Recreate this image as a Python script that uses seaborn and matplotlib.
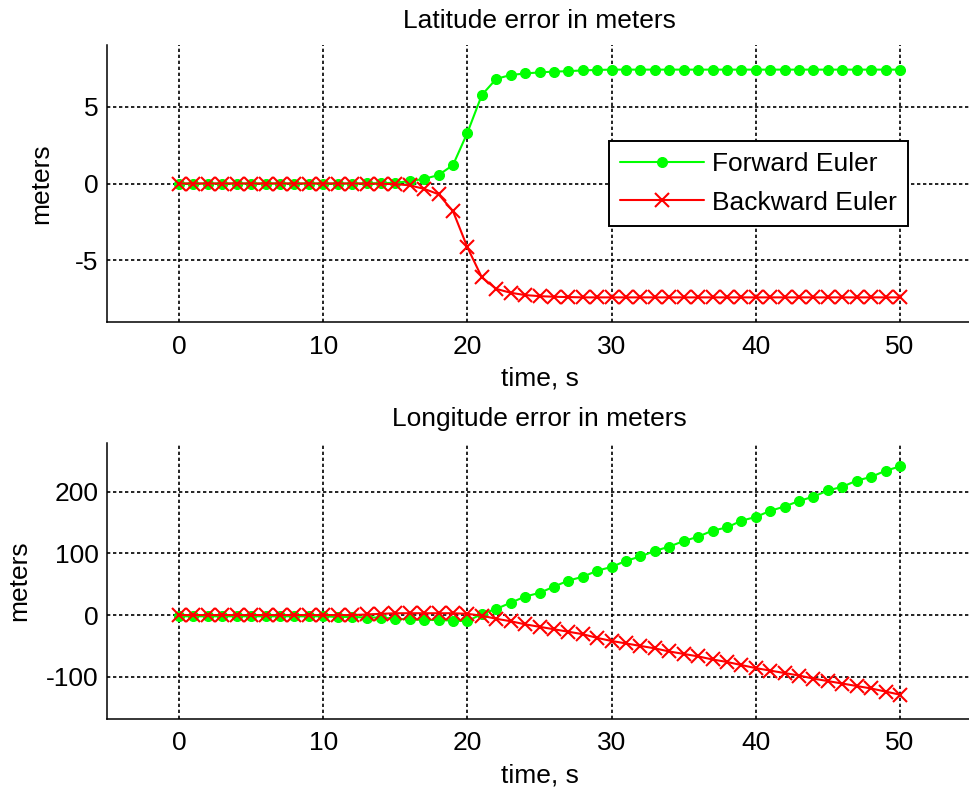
import matplotlib
matplotlib.use("Agg")
import matplotlib.pyplot as plt
import seaborn as sns
import numpy as np

# ---------------- data ----------------
t = list(range(0, 51))

lat_forward = [0.0, 0.0, 0.0, 0.0, 0.0, 0.0, 0.0, 0.0, 0.0, 0.0,
               0.0, 0.0, 0.0, 0.01, 0.02, 0.05, 0.15, 0.3, 0.55, 1.2,
               3.3, 5.75, 6.8, 7.05, 7.15, 7.22, 7.27, 7.3, 7.35, 7.38,
               7.4, 7.4, 7.4, 7.4, 7.4, 7.4, 7.4, 7.4, 7.4, 7.4,
               7.4, 7.4, 7.4, 7.4, 7.4, 7.4, 7.4, 7.4, 7.4, 7.4, 7.4]
lat_backward = [0.0, 0.0, 0.0, 0.0, 0.0, 0.0, 0.0, 0.0, 0.0, 0.0,
                0.0, 0.0, 0.0, -0.01, -0.02, -0.04, -0.12, -0.35, -0.7, -1.8,
                -4.15, -6.1, -6.85, -7.1, -7.25, -7.32, -7.36, -7.38, -7.4, -7.4,
                -7.4, -7.4, -7.4, -7.4, -7.4, -7.4, -7.4, -7.4, -7.4, -7.4,
                -7.4, -7.4, -7.4, -7.4, -7.4, -7.4, -7.4, -7.4, -7.4, -7.4, -7.4]

lon_forward = [-2, -2, -2, -2, -2, -2, -2, -2, -2, -2,
               -2, -3, -3, -4, -4, -6, -7, -8, -8, -9,
               -10, 2, 10, 20, 30, 36, 46, 56, 62, 72,
               78, 88, 95, 104, 111, 120, 127, 137, 142, 153,
               159, 169, 176, 185, 192, 202, 208, 218, 224, 234, 241]
lon_backward = [0, 0, 0, 0, 0, 0, 0, 0, 0, 0,
                0, 0, 0, 1, 2, 3, 3, 3, 3, 3,
                2, -1, -6, -10, -15, -19, -23, -27, -31, -37,
                -42, -46, -50, -54, -59, -63, -67, -72, -76, -81,
                -86, -90, -94, -98, -103, -107, -111, -115, -119, -124, -129]

xticks = [0, 10, 20, 30, 40, 50]
lat_yticks = [-5, 0, 5]
lon_yticks = [-100, 0, 100, 200]
titles = ["Latitude error in meters", "Longitude error in meters"]
labels = ["Forward Euler", "Backward Euler"]

# ---------------- style ----------------
sns.set_style("white")
plt.rcParams['font.family'] = ['Liberation Sans', 'DejaVu Sans']
plt.rcParams['text.color'] = 'black'
plt.rcParams['axes.labelcolor'] = 'black'
plt.rcParams['xtick.color'] = 'black'
plt.rcParams['ytick.color'] = 'black'
FS = 19

fig = plt.figure(figsize=(9.69, 7.89), dpi=100)
ax1 = fig.add_axes([107/969, 1-322/789, 865/969, 277/789])
ax2 = fig.add_axes([107/969, 1-719/789, 865/969, 276/789])

GREEN = (0, 1, 0)
RED = (1, 0, 0)

def draw(ax, yf, yb, ylim, yticks, title, legend, ylabelpad):
    sns.lineplot(x=t, y=yf, ax=ax, color=GREEN, marker='o', markersize=7.2,
                 markeredgecolor=GREEN, markerfacecolor=GREEN, linewidth=1.5,
                 label=labels[0] if legend else None, legend=False)
    sns.lineplot(x=t, y=yb, ax=ax, color=RED, marker='x', markersize=9.5,
                 markeredgecolor=RED, markeredgewidth=1.5, linewidth=1.5,
                 label=labels[1] if legend else None, legend=False)
    ax.set_xlim(-5, 55)
    ax.set_ylim(*ylim)
    ax.set_xticks(xticks)
    ax.set_yticks(yticks)
    ax.set_xticklabels([str(v) for v in xticks], fontsize=FS)
    ax.set_yticklabels([str(v) for v in yticks], fontsize=FS)
    ax.tick_params(direction='in', length=6, width=1.1, color='black',
                   labelcolor='black')
    ax.tick_params(axis='x', pad=9)
    ax.tick_params(axis='y', pad=6)
    ax.grid(True, color='black', linestyle=(0, (2, 1.6)), linewidth=1.2)
    ax.set_axisbelow(True)
    for s in ['top', 'right']:
        ax.spines[s].set_visible(False)
    for s in ['left', 'bottom']:
        ax.spines[s].set_color('black')
        ax.spines[s].set_linewidth(1.1)
    ax.set_xlabel("time, s", fontsize=FS, labelpad=6, color='black')
    ax.set_ylabel("meters", fontsize=FS, labelpad=ylabelpad, color='black')
    ax.set_title(title, fontsize=FS, pad=12, color='black')
    ax.patch.set_alpha(0)

draw(ax1, lat_forward, lat_backward, (-9, 9), lat_yticks, titles[0], True, 16)
draw(ax2, lon_forward, lon_backward, (-168.5, 279), lon_yticks, titles[1], False, 11)

leg = ax1.legend(loc='upper left', bbox_to_anchor=(0.580, 0.653),
                 fontsize=FS, frameon=True, fancybox=False, shadow=False,
                 handlelength=3.2, handletextpad=0.3, labelspacing=0.55,
                 borderpad=0.42, borderaxespad=0)
leg.get_frame().set_edgecolor('black')
leg.get_frame().set_linewidth(1.4)
leg.get_frame().set_facecolor('white')
leg.get_frame().set_alpha(1)
for txt in leg.get_texts():
    txt.set_color('black')

fig.savefig("out.png", dpi=100)
